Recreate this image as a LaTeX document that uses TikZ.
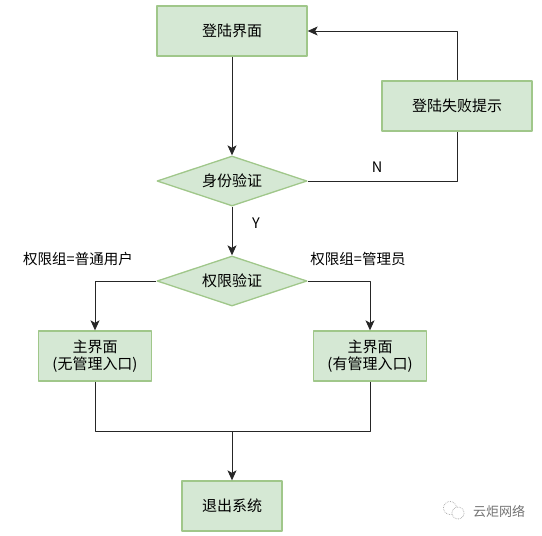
\documentclass[tikz,border=0pt]{standalone}
\usepackage{fontspec}
\setmainfont{Noto Sans CJK SC}
\usetikzlibrary{shapes.geometric,arrows.meta}
\definecolor{boxfill}{HTML}{D5E8D4}
\definecolor{boxline}{HTML}{A0C78A}
\tikzset{
	hop/.style={draw=boxline,fill=boxfill,line width=1.3pt,minimum width=#1,minimum height=50pt,align=center,inner sep=0pt},
	test/.style={draw=boxline,fill=boxfill,line width=1.3pt,shape=diamond,minimum width=150pt,minimum height=50pt,aspect=3,inner sep=0pt},
	link/.style={-{Stealth[length=10pt,width=9pt,inset=2.5pt]},line width=1pt,color=black!85},
	plain/.style={line width=1pt,color=black!85},
	note/.style={font=\fontsize{14.5}{15}\selectfont}
}
\begin{document}
\begin{tikzpicture}[x=1pt,y=-1pt,line join=round,every node/.style={font=\fontsize{15}{17}\selectfont}]
	\useasboundingbox (0,0) rectangle (542,536);
	\node[hop=150pt] (login) at (232,31) {登陆界面};
	\node[hop=150pt] (fail) at (457,106) {登陆失败提示};
	\node[test] (verify) at (232,181) {身份验证};
	\node[test] (role) at (232,281) {权限验证};
	\node[hop=113pt] (userui) at (95,356) {主界面\\(无管理入口)};
	\node[hop=113pt] (adminui) at (370,356) {主界面\\(有管理入口)};
	\node[hop=100pt] (quit) at (232,506) {退出系统};
	\coordinate (merge) at (232,431);
	% connectors
	\draw[link] (login) -- (verify);
	\draw[plain] (verify) -| (fail);
	\draw[link] (fail) |- (login);
	\draw[link] (verify) -- (role);
	\draw[link] (role) -| (userui);
	\draw[link] (role) -| (adminui);
	\draw[plain] (userui) |- (merge);
	\draw[plain] (adminui) |- (merge);
	\draw[link] (merge) -- (quit);
	% labels
	\node[note] (labn) at (377,167) {N};
	\node[note] (laby) at (256,223) {Y};
	\node[note] (labuser) at (78,259) {权限组=普通用户};
	\node[note] (labadmin) at (358,259) {权限组=管理员};
	% watermark
	\node[font=\fontsize{13}{15}\selectfont,color=black!55] (mark) at (499,511) {云炬网络};
	\draw[black!35,densely dotted,line width=.7pt] (450,508) circle (6.5);
	\draw[black!35,densely dotted,line width=.7pt,fill=white] (458,513) circle (6);
\end{tikzpicture}
\end{document}
